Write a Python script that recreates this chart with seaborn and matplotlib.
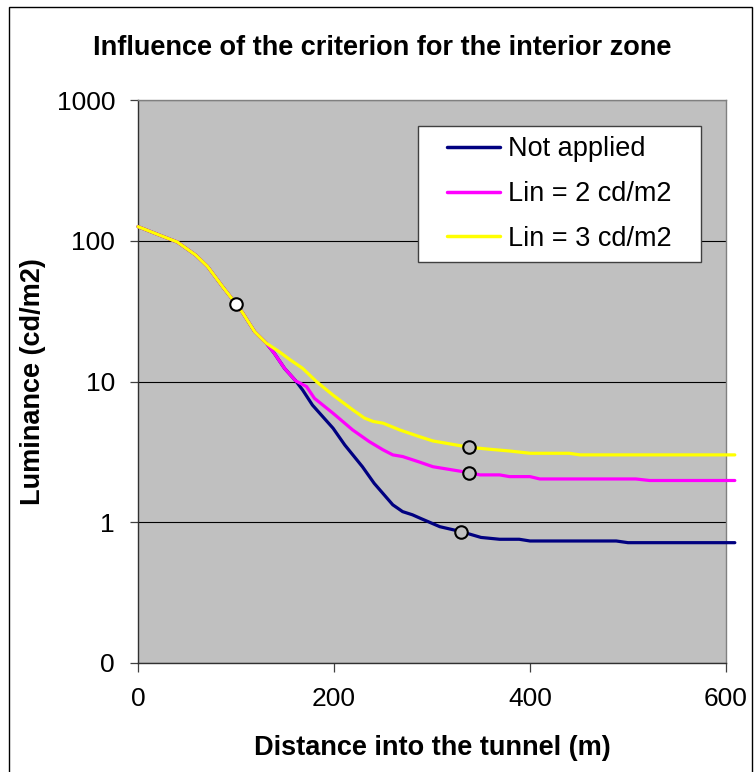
import numpy as np
import pandas as pd
import matplotlib
matplotlib.use("Agg")
import matplotlib.pyplot as plt
from matplotlib.patches import Rectangle
from matplotlib.ticker import FixedLocator, NullLocator, FixedFormatter
import seaborn as sns

# ---------------- data ----------------
x_common = [0, 20, 40, 59, 71, 86.5, 100, 107, 119, 131]
y_common = [126, 111, 98, 79, 65.6, 47, 35.6, 30.6, 22.6, 18.7]

x_not_applied = x_common + [139, 149.5, 161, 168, 178, 199, 211, 229, 241, 260, 270, 280, 289,
                            308, 330, 350, 369, 389, 400, 488, 500, 609]
y_not_applied = y_common + [15.9, 12.4, 10.1, 8.7, 6.8, 4.66, 3.54, 2.48, 1.89, 1.33, 1.19, 1.13, 1.06,
                            0.93, 0.857, 0.78, 0.757, 0.757, 0.736, 0.736, 0.716, 0.716]

x_lin2 = x_common + [139, 149.5, 161, 172, 180, 199, 219, 236, 250, 260, 270, 287, 301,
                     338, 349, 369, 379, 400, 410, 508, 522, 609]
y_lin2 = y_common + [15.9, 12.4, 10.1, 9.2, 7.6, 5.95, 4.53, 3.74, 3.27, 3.01, 2.93, 2.68, 2.48,
                     2.25, 2.17, 2.17, 2.11, 2.11, 2.03, 2.03, 1.98, 1.98]

x_lin3 = x_common + [144, 155, 168, 182, 199, 219, 231, 240, 250, 267, 287, 301,
                     338, 359, 379, 400, 440, 451, 609]
y_lin3 = y_common + [16.3, 14.3, 12.4, 10.0, 8.0, 6.3, 5.5, 5.2, 5.06, 4.53, 4.06, 3.78,
                     3.41, 3.30, 3.21, 3.09, 3.09, 3.01, 3.01]

series_names = ["Not applied", "Lin = 2 cd/m2", "Lin = 3 cd/m2"]
series_colors = ["#000080", "#FF00FF", "#FFFF00"]

marker_white_x = [100]
marker_white_y = [35.6]
marker_grey_x = [330, 338, 338]
marker_grey_y = [0.857, 2.25, 3.41]

y_ticks = [0.1, 1, 10, 100, 1000]
y_tick_labels = ["0", "1", "10", "100", "1000"]
x_ticks = [0, 200, 400, 600]
x_tick_labels = ["0", "200", "400", "600"]

title = "Influence of the criterion for the interior zone"
x_label = "Distance into the tunnel (m)"
y_label = "Luminance (cd/m2)"

# ---------------- figure ----------------
sns.set_style("white")
plt.rcParams["font.family"] = ["Liberation Sans", "DejaVu Sans"]
plt.rcParams["text.color"] = "black"
plt.rcParams["axes.labelcolor"] = "black"
plt.rcParams["xtick.color"] = "black"
plt.rcParams["ytick.color"] = "black"

W, H = 755, 772
fig = plt.figure(figsize=(W / 100, H / 100), dpi=100)
L, R, T, B = 138, 726, 100, 663
ax = fig.add_axes([L / W, 1 - B / H, (R - L) / W, (B - T) / H])
bg = "#C0C0C0"
ax.set_facecolor(bg)

frames = []
for name, xs, ys in zip(series_names, [x_not_applied, x_lin2, x_lin3],
                        [y_not_applied, y_lin2, y_lin3]):
    frames.append(pd.DataFrame({"x": xs, "y": ys, "series": name}))
df = pd.concat(frames, ignore_index=True)

sns.lineplot(data=df, x="x", y="y", hue="series", hue_order=series_names,
             palette=dict(zip(series_names, series_colors)), sort=False,
             estimator=None, linewidth=2.3, ax=ax, zorder=3)
for ln in ax.lines:
    ln.set_clip_on(False)
    ln.set_solid_joinstyle("round")

ax.plot(marker_white_x, marker_white_y, linestyle="none", marker="o", markersize=9,
        markerfacecolor="white", markeredgecolor="black", markeredgewidth=1.5, zorder=4)
ax.plot(marker_grey_x, marker_grey_y, linestyle="none", marker="o", markersize=9,
        markerfacecolor=bg, markeredgecolor="black", markeredgewidth=1.5, zorder=4)

ax.set_yscale("log")
ax.set_xlim(0, 600)
ax.set_ylim(0.1, 1000)
ax.yaxis.set_major_locator(FixedLocator(y_ticks))
ax.yaxis.set_major_formatter(FixedFormatter(y_tick_labels))
ax.yaxis.set_minor_locator(NullLocator())
ax.xaxis.set_major_locator(FixedLocator(x_ticks))
ax.xaxis.set_major_formatter(FixedFormatter(x_tick_labels))

ax.grid(axis="y", color="black", linewidth=0.8, zorder=1)
ax.grid(axis="x", visible=False)
ax.set_axisbelow(True)

ax.tick_params(axis="y", which="major", length=6, width=0.9, color="#404040",
               pad=10.5, labelsize=19, labelcolor="black", left=True, direction="out")
ax.tick_params(axis="x", which="major", length=6.5, width=0.9, color="#404040",
               pad=11, labelsize=19, labelcolor="black", bottom=True, direction="out")

for s in ["left", "bottom"]:
    ax.spines[s].set_color("#303030")
    ax.spines[s].set_linewidth(1.0)
for s in ["top", "right"]:
    ax.spines[s].set_color("#808080")
    ax.spines[s].set_linewidth(1.0)

ax.set_xlabel(x_label, fontsize=19.5, fontweight="bold", color="black")
ax.set_ylabel(y_label, fontsize=19.5, fontweight="bold", color="black")
ax.xaxis.set_label_coords(0.5, -0.128)
ax.yaxis.set_label_coords(-0.156, 0.5)

# legend
handles, labels = ax.get_legend_handles_labels()
if ax.get_legend() is not None:
    ax.get_legend().remove()
h3 = handles[:3]
lb3 = labels[:3]
lx0, lx1, ly0, ly1 = 418, 701, 126, 262
box = Rectangle(((lx0 - L) / (R - L), (B - ly1) / (B - T)), (lx1 - lx0) / (R - L),
                (ly1 - ly0) / (B - T), transform=ax.transAxes, facecolor="white",
                edgecolor="#404040", linewidth=1.0, zorder=5)
ax.add_patch(box)
leg = ax.legend(h3, lb3, loc="center",
                bbox_to_anchor=(((lx0 + lx1) / 2 - L) / (R - L), (B - (ly0 + ly1) / 2) / (B - T)),
                frameon=False, fontsize=19.5, handlelength=1.95, handletextpad=0.3,
                labelspacing=0.69, borderpad=0.2)
leg.set_zorder(6)
for lh in leg.get_lines():
    lh.set_linewidth(2.5)
for t in leg.get_texts():
    t.set_color("black")

fig.text(382.5 / W, 1 - 48 / H, title, ha="center", va="center", fontsize=19.5,
         fontweight="bold", color="black")

# outer chart border
fig.patches.append(Rectangle((9 / W, -0.02), (752 - 9) / W, 1.02 - 7 / H,
                             transform=fig.transFigure, fill=False,
                             edgecolor="black", linewidth=1.0))

fig.savefig("out.png", dpi=100, facecolor="white")
